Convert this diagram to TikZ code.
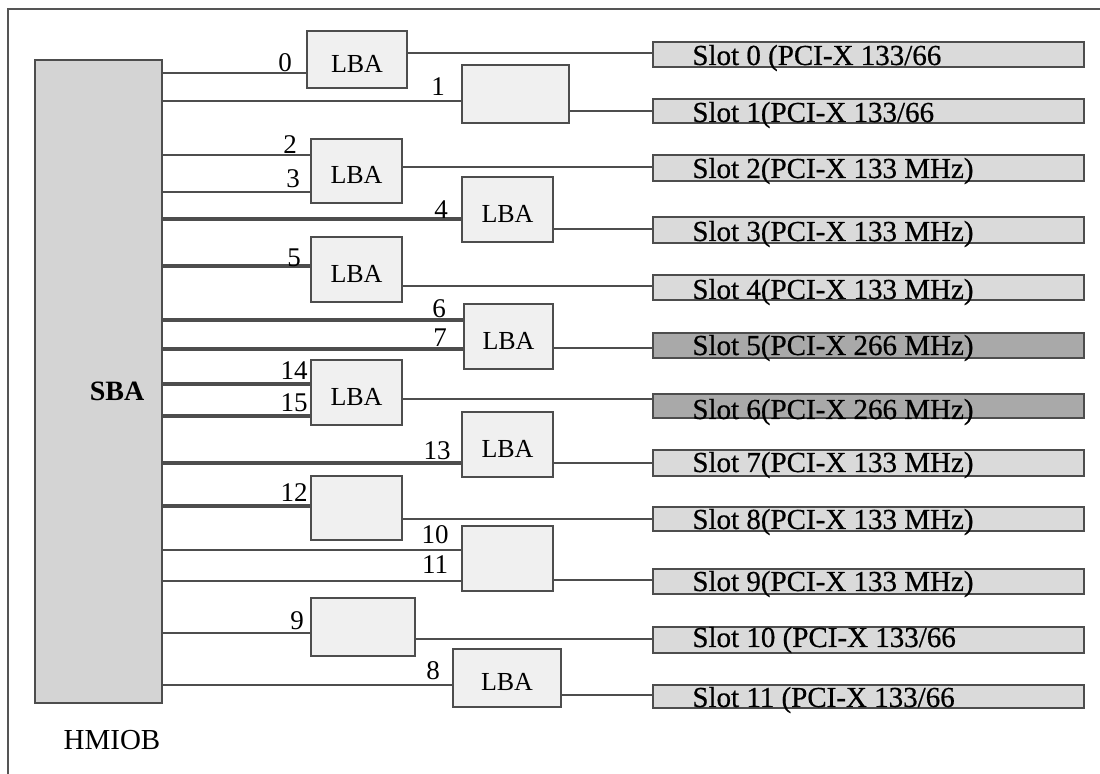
\documentclass[tikz,border=0pt]{standalone}
\usepackage{fontspec}
\setmainfont{Liberation Serif}
\newfontfamily\slotfont{Liberation Serif}[FakeBold=0.6]
\usetikzlibrary{fit}
\definecolor{linec}{HTML}{4D4D4D}
\definecolor{framec}{HTML}{555555}
\definecolor{boxfill}{HTML}{F0F0F0}
\definecolor{sbafill}{HTML}{D4D4D4}
\definecolor{slotfill}{HTML}{DADADA}
\definecolor{slotdarkfill}{HTML}{A9A9A9}
\begin{document}
\begin{tikzpicture}[x=0.5pt,y=-0.5pt,
  thinl/.style={draw=linec,line width=1pt},
  heavyl/.style={draw=linec,line width=1.7pt},
  boxst/.style={draw=linec,line width=1pt,fill=boxfill,inner sep=0pt},
  lbatext/.style={inner sep=0pt,font=\fontsize{13}{13}\selectfont},
  slotst/.style={draw=linec,line width=1pt,fill=slotfill,inner sep=0pt},
  slotdark/.style={slotst,fill=slotdarkfill},
  slottext/.style={anchor=base west,inner sep=0pt,font=\slotfont\fontsize{14.5}{14.5}\selectfont},
  num/.style={inner sep=0pt,font=\fontsize{13.5}{13.5}\selectfont}]
\useasboundingbox (0,0) rectangle (1100,774);
\fill[white] (0,0) rectangle (1100,774);
\draw[framec,line width=1pt] (8,774) -- (8,9) -- (1100,9);

% SBA
\node[fit={(35,60) (162,703)},draw=linec,fill=sbafill,line width=1pt,inner sep=0pt] (sba) {};
\node[inner sep=0pt,font=\bfseries\fontsize{14}{14}\selectfont] (sbatext) at (117,391) {SBA};
\node[inner sep=0pt,font=\fontsize{14.5}{14.5}\selectfont] (hmiob) at (112,740) {HMIOB};

% LBA boxes
\node[boxst,fit={(307,31) (407,88)}] (b0) {};
\node[boxst,fit={(462,65) (569,123)}] (b1) {};
\node[boxst,fit={(311,139) (402,203)}] (b2) {};
\node[boxst,fit={(462,177) (553,242)}] (b4) {};
\node[boxst,fit={(311,237) (402,302)}] (b5) {};
\node[boxst,fit={(464,304) (553,369)}] (b6) {};
\node[boxst,fit={(311,360) (402,425)}] (b14) {};
\node[boxst,fit={(462,412) (553,477)}] (b13) {};
\node[boxst,fit={(311,476) (402,540)}] (b12) {};
\node[boxst,fit={(462,526) (553,591)}] (b10) {};
\node[boxst,fit={(311,598) (415,656)}] (b9) {};
\node[boxst,fit={(453,649) (561,707)}] (b8) {};
\foreach \b in {b0,b2,b4,b5,b6,b14,b13,b8}
  \node[lbatext] (\b label) at ([yshift=-2pt]\b.center) {LBA};

% slots
\node[slotst,fit={(653,42) (1084,67)}] (s0) {};
\node[slotst,fit={(653,99) (1084,123)}] (s1) {};
\node[slotst,fit={(653,155) (1084,181)}] (s2) {};
\node[slotst,fit={(653,217) (1084,243)}] (s3) {};
\node[slotst,fit={(653,275) (1084,300)}] (s4) {};
\node[slotdark,fit={(653,333) (1084,358)}] (s5) {};
\node[slotdark,fit={(653,394) (1084,418)}] (s6) {};
\node[slotst,fit={(653,450) (1084,476)}] (s7) {};
\node[slotst,fit={(653,507) (1084,531)}] (s8) {};
\node[slotst,fit={(653,569) (1084,594)}] (s9) {};
\node[slotst,fit={(653,627) (1084,653)}] (s10) {};
\node[slotst,fit={(653,685) (1084,708)}] (s11) {};

\node[slottext] (t0) at (692,65) {Slot 0 (PCI-X 133/66};
\node[slottext] (t1) at (692,122) {Slot 1(PCI-X 133/66};
\node[slottext] (t2) at (692,178) {Slot 2(PCI-X 133 MHz)};
\node[slottext] (t3) at (692,241) {Slot 3(PCI-X 133 MHz)};
\node[slottext] (t4) at (692,299) {Slot 4(PCI-X 133 MHz)};
\node[slottext] (t5) at (692,355) {Slot 5(PCI-X 266 MHz)};
\node[slottext] (t6) at (692,419) {Slot 6(PCI-X 266 MHz)};
\node[slottext] (t7) at (692,472) {Slot 7(PCI-X 133 MHz)};
\node[slottext] (t8) at (692,529) {Slot 8(PCI-X 133 MHz)};
\node[slottext] (t9) at (692,591) {Slot 9(PCI-X 133 MHz)};
\node[slottext] (t10) at (692,647) {Slot 10 (PCI-X 133/66};
\node[slottext] (t11) at (692,707) {Slot 11 (PCI-X 133/66};

% inputs from SBA
\foreach \y/\b/\s in {73/b0/thinl,101/b1/thinl,155/b2/thinl,192/b2/thinl,
  219/b4/heavyl,266/b5/heavyl,320/b6/heavyl,349/b6/heavyl,384/b14/heavyl,
  416/b14/heavyl,463/b13/heavyl,506/b12/heavyl,550/b10/thinl,581/b10/thinl,
  633/b9/thinl,685/b8/thinl}
  \draw[\s] (sba.east |- 0,\y) -- (\b.west |- 0,\y);

% outputs to slots
\foreach \b/\s/\y in {b0/s0/53,b1/s1/111,b2/s2/167,b4/s3/229,b5/s4/286,
  b6/s5/348,b14/s6/399,b13/s7/463,b12/s8/519,b10/s9/580,b9/s10/639,b8/s11/695}
  \draw[thinl] (\b.east |- 0,\y) -- (\s.west |- 0,\y);

% port numbers
\foreach \n/\x/\y in {0/285/63,1/438/87,2/290/145,3/293/179,4/441/210,5/294/258,
  6/439/309,7/440/338,14/294/371,15/294/403,13/437/451,12/294/493,10/435/535,
  11/435/565,9/297/621,8/433/671}
  \node[num] (n\n) at (\x,\y) {\n};
\end{tikzpicture}
\end{document}
